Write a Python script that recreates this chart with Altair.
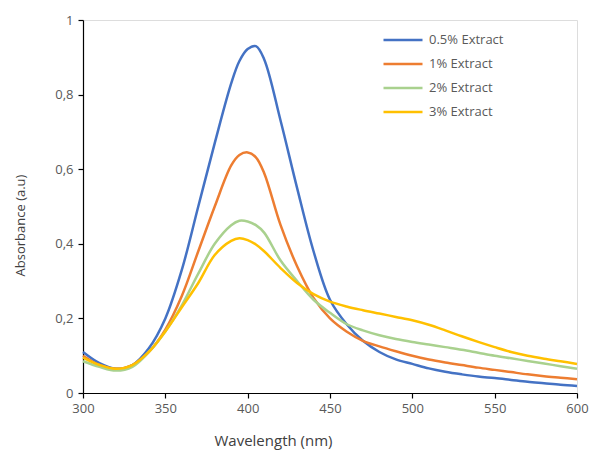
import altair as alt
import pandas as pd

wavelength = [300, 310, 320, 330, 340, 350, 360, 370, 380, 390, 395, 400, 405, 410,
              420, 430, 440, 450, 460, 470, 480, 490, 500, 510, 520, 530, 540, 550,
              560, 570, 580, 590, 600]

ext_05 = [0.110, 0.080, 0.065, 0.075, 0.120, 0.200, 0.330, 0.500, 0.670, 0.830, 0.890, 0.922, 0.930, 0.895,
          0.730, 0.550, 0.380, 0.250, 0.185, 0.140, 0.110, 0.090, 0.078, 0.066, 0.057, 0.050, 0.044, 0.040,
          0.035, 0.030, 0.026, 0.022, 0.019]
ext_1 = [0.100, 0.075, 0.065, 0.075, 0.110, 0.170, 0.260, 0.380, 0.500, 0.610, 0.638, 0.645, 0.632, 0.590,
         0.450, 0.340, 0.255, 0.200, 0.165, 0.140, 0.125, 0.112, 0.100, 0.090, 0.082, 0.075, 0.068, 0.062,
         0.056, 0.050, 0.045, 0.041, 0.037]
ext_2 = [0.085, 0.070, 0.060, 0.070, 0.110, 0.165, 0.235, 0.320, 0.400, 0.450, 0.462, 0.460, 0.450, 0.430,
         0.355, 0.300, 0.250, 0.215, 0.185, 0.168, 0.155, 0.145, 0.137, 0.130, 0.123, 0.116, 0.108, 0.100,
         0.093, 0.086, 0.079, 0.072, 0.065]
ext_3 = [0.095, 0.075, 0.065, 0.075, 0.110, 0.165, 0.230, 0.295, 0.370, 0.408, 0.415, 0.410, 0.398, 0.380,
         0.335, 0.295, 0.265, 0.245, 0.232, 0.222, 0.213, 0.204, 0.195, 0.183, 0.168, 0.152, 0.137, 0.123,
         0.110, 0.100, 0.092, 0.085, 0.078]

series_names = ["0.5% Extract", "1% Extract", "2% Extract", "3% Extract"]
series_colors = ["#4472C4", "#ED7D31", "#A9D18E", "#FFC000"]

rows = []
for name, vals in zip(series_names, [ext_05, ext_1, ext_2, ext_3]):
    for w, v in zip(wavelength, vals):
        rows.append({"Wavelength": w, "Absorbance": v, "Series": name})
df = pd.DataFrame(rows)

FONT = "Open Sans"

chart = alt.Chart(df).mark_line(strokeWidth=2.5, interpolate="catmull-rom").encode(
    x=alt.X("Wavelength:Q",
            scale=alt.Scale(domain=[300, 600], nice=False, zero=False),
            axis=alt.Axis(values=[300, 350, 400, 450, 500, 550, 600], title="Wavelength (nm)",
                          grid=False, domain=True, domainColor="#000000", domainWidth=1.2,
                          ticks=True, tickColor="#000000", tickSize=5, tickWidth=1.2,
                          labelFont=FONT, labelFontSize=13, labelColor="#595959", labelPadding=4,
                          titleFont=FONT, titleFontSize=15, titleFontWeight="normal", titleColor="#404040",
                          titleX=190, titleY=47, titleAlign="center", titleBaseline="middle",
                          labelFlush=False)),
    y=alt.Y("Absorbance:Q",
            scale=alt.Scale(domain=[0, 1], nice=False),
            axis=alt.Axis(values=[0, 0.2, 0.4, 0.6, 0.8, 1.0], title="Absorbance (a.u)",
                          labelExpr="datum.value == 0 ? '0' : datum.value == 1 ? '1' : replace(format(datum.value, '.1f'), '.', ',')",
                          grid=False, domain=True, domainColor="#000000", domainWidth=1.2,
                          ticks=True, tickColor="#000000", tickSize=5, tickWidth=1.2,
                          labelFont=FONT, labelFontSize=13, labelColor="#595959", labelPadding=5,
                          titleFont=FONT, titleFontSize=13, titleFontWeight="normal", titleColor="#404040",
                          titleX=-63, titleY=205, titleAlign="center", titleBaseline="middle", titleAngle=270,
                          labelFlush=False)),
    color=alt.Color("Series:N",
                    scale=alt.Scale(domain=series_names, range=series_colors),
                    legend=alt.Legend(title=None, orient="none", legendX=299, legendY=12,
                                      symbolType="stroke", symbolSize=1521, symbolStrokeWidth=2.5,
                                      labelFont=FONT, labelFontSize=13, labelColor="#595959",
                                      clipHeight=16, rowPadding=8, labelOffset=5)),
).properties(
    width=494, height=373,
    autosize=alt.AutoSizeParams(type="none"),
    padding={"left": 83, "top": 20, "right": 14, "bottom": 57},
).configure_view(stroke=None).configure(background="white")

chart.save("out.html", embed_options={"renderer": "svg", "actions": False})
